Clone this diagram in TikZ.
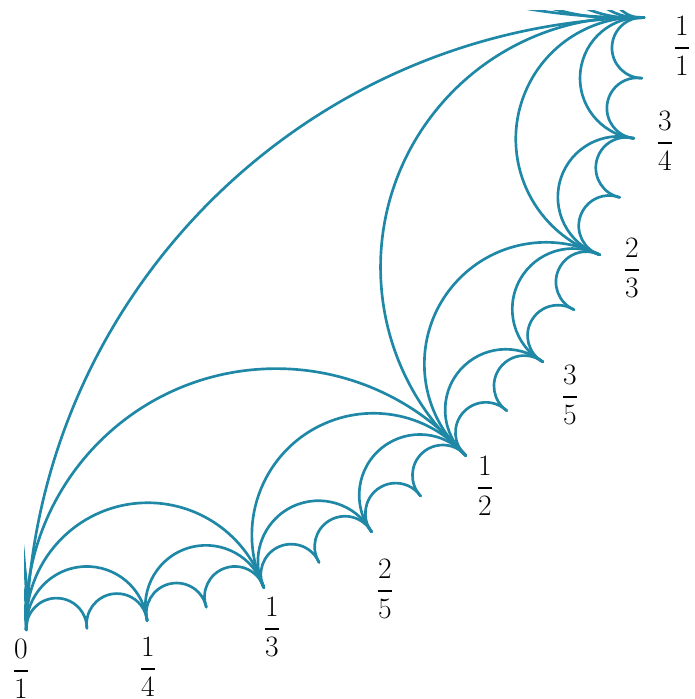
\documentclass[tikz,border=0pt]{standalone}
\usepackage{amsmath}
\definecolor{fareyblue}{RGB}{30,136,166}
\tikzset{
  geo/.style={draw=fareyblue, line width=2pt, line cap=round},
  lab/.style={inner sep=0pt, text=black, font=\huge}
}
\newcommand{\fl}[2]{\scalebox{1.07}{$\dfrac{#1}{#2}$}}
\begin{document}
\begin{tikzpicture}[x=0.75pt,y=-0.75pt]
\useasboundingbox (0,0) rectangle (694,699);
\def\cx{42}\def\cy{28}\def\R{602}
\def\tA{91.5}\def\tB{-1}
% boundary points of the Farey tree (dyadic positions, 1/16 steps)
\foreach \n in {0,...,16} {
  \pgfmathsetmacro\th{\tA+(\tB-\tA)*\n/16}
  \coordinate (p\n) at ({\cx+\R*cos(\th)},{\cy+\R*sin(\th)});
}
\begin{scope}
\clip (24,11) rectangle (694,699);
% Farey edges inside the quadrant, levels 0..4
\foreach \L in {0,...,4} {
  \pgfmathtruncatemacro\N{2^\L-1}
  \pgfmathtruncatemacro\S{16/(2^\L)}
  \pgfmathsetmacro\ex{\L==0 ? 0 : 4}
  \foreach \k in {0,...,\N} {
    \pgfmathtruncatemacro\i{\k*\S}
    \pgfmathsetmacro\a{\tA+(\tB-\tA)*\k/(2^\L)}
    \pgfmathsetmacro\b{\tA+(\tB-\tA)*(\k+1)/(2^\L)}
    \pgfmathsetmacro\h{(\a-\b)/2}
    \pgfmathsetmacro\m{(\a+\b)/2}
    \pgfmathsetmacro\al{90-\h+\ex}
    \pgfmathsetmacro\r{\R*sin(\h)/sin(\al)}
    \draw[geo] (p\i) arc[start angle=\m+180-\al, end angle=\m+180+\al, radius=\r];
  }
}
% edges leaving 1/1 and 0/1 towards the neighbouring quadrants (clipped)
\foreach \s in {1,0.5,0.25,0.125,0.0625} {
  \pgfmathsetmacro\ex{\s==1 ? 0 : 4}
  \pgfmathsetmacro\a{\tB}
  \pgfmathsetmacro\b{\tA+(\tB-\tA)*(1+\s)}
  \pgfmathsetmacro\h{(\a-\b)/2}
  \pgfmathsetmacro\m{(\a+\b)/2}
  \pgfmathsetmacro\al{90-\h+\ex}
  \pgfmathsetmacro\r{\R*sin(\h)/sin(\al)}
  \draw[geo] (p16) arc[start angle=\m+180-\al, end angle=\m+180+\al, radius=\r];
  \pgfmathsetmacro\a{\tA+(\tB-\tA)*(-\s)}
  \pgfmathsetmacro\b{\tA}
  \pgfmathsetmacro\h{(\a-\b)/2}
  \pgfmathsetmacro\m{(\a+\b)/2}
  \pgfmathsetmacro\al{90-\h+\ex}
  \pgfmathsetmacro\r{\R*sin(\h)/sin(\al)}
  \draw[geo] (p0) arc[start angle=\m+180+\al, end angle=\m+180-\al, radius=\r];
}
\end{scope}
% labels
\node[lab] (l01) at (21,669) {\fl{0}{1}};
\node[lab] (l14) at (148,667) {\fl{1}{4}};
\node[lab] (l13) at (272,627) {\fl{1}{3}};
\node[lab] (l25) at (385,589) {\fl{2}{5}};
\node[lab] (l12) at (485,486) {\fl{1}{2}};
\node[lab] (l35) at (570,395) {\fl{3}{5}};
\node[lab] (l23) at (632,268) {\fl{2}{3}};
\node[lab] (l34) at (665,141) {\fl{3}{4}};
\node[lab] (l11) at (682,46) {\fl{1}{1}};
\end{tikzpicture}
\end{document}
